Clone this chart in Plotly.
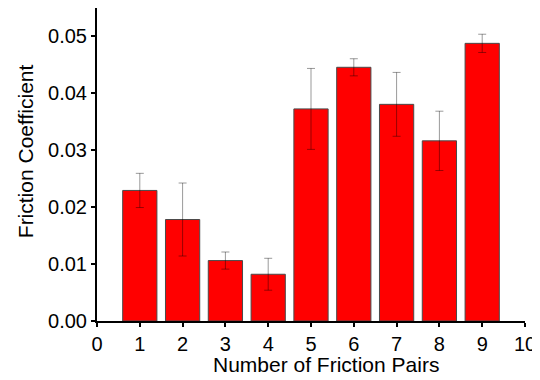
import plotly.graph_objects as go

pairs = [1, 2, 3, 4, 5, 6, 7, 8, 9]
friction = [0.0229, 0.0178, 0.0106, 0.0082, 0.0372, 0.0445, 0.0380, 0.0316, 0.0487]
errors = [0.0030, 0.0064, 0.0015, 0.0028, 0.0071, 0.0015, 0.0056, 0.0052, 0.0016]
x_ticks = list(range(0, 11))
y_ticks = [0.00, 0.01, 0.02, 0.03, 0.04, 0.05]
x_title = "Number of Friction Pairs"
y_title = "Friction Coefficient"

fig = go.Figure()
fig.add_trace(go.Bar(
    x=pairs, y=friction, width=0.8,
    marker=dict(color="#FF0000", line=dict(color="#4a4a4a", width=1)),
    error_y=dict(type="data", array=errors, visible=True, color="rgba(0,0,0,0.4)", thickness=1, width=4),
))

font = dict(family="Liberation Sans, Arial, sans-serif", size=20, color="black")
title_font = dict(family="Liberation Sans, Arial, sans-serif", size=21, color="black")
fig.update_layout(
    width=532, height=372,
    margin=dict(l=89, r=15, t=0, b=59),
    paper_bgcolor="white", plot_bgcolor="white",
    font=font, showlegend=False, bargap=0.2,
    xaxis=dict(
        range=[0, 10], tickvals=x_ticks, ticktext=[str(v) for v in x_ticks],
        showline=True, linecolor="black", linewidth=2,
        ticks="outside", ticklen=4, tickwidth=1.5, tickcolor="black",
        showgrid=False, zeroline=False, automargin=False,
        tickfont=font,
    ),
    yaxis=dict(
        range=[0, 0.0549], tickvals=y_ticks, tickformat=".2f",
        showline=True, linecolor="black", linewidth=2,
        ticks="outside", ticklen=4, tickwidth=1.5, tickcolor="black",
        showgrid=False, zeroline=False, automargin=False,
        tickfont=font,
    ),
    annotations=[
        dict(text=x_title, xref="x", yref="paper", x=5.34, y=-0.1374,
             xanchor="center", yanchor="middle", showarrow=False, font=title_font),
        dict(text=y_title, xref="paper", yref="y", x=-0.168, y=0.0298,
             xanchor="center", yanchor="middle", showarrow=False, textangle=-90,
             font=title_font),
    ],
)

fig.write_html("out.html")
